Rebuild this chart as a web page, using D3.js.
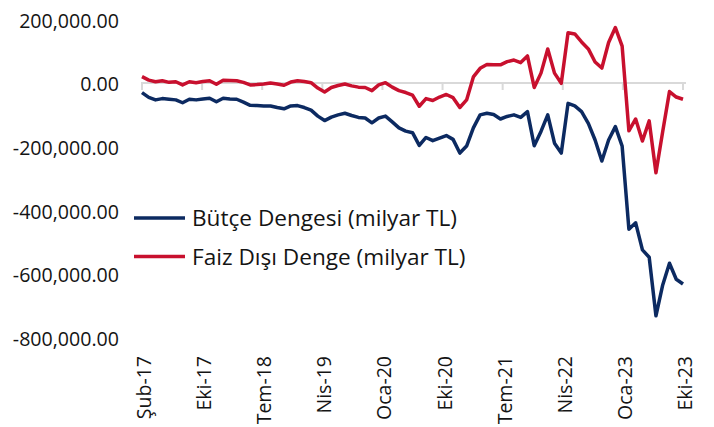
<!DOCTYPE html>
<html>
<head>
<meta charset="utf-8">
<script src="https://cdn.jsdelivr.net/npm/d3@7"></script>
<style>
  body { margin: 0; background: #fff; }
  text { font-family: "Open Sans", "DejaVu Sans", sans-serif; fill: #141414; }
</style>
</head>
<body>
<svg id="chart" width="714" height="427"></svg>
<script>
// monthly categories, Şub-17 .. Eki-23
const monthNames = ["Oca", "Şub", "Mar", "Nis", "May", "Haz", "Tem", "Ağu", "Eyl", "Eki", "Kas", "Ara"];
const categories = d3.range(81).map(function (i) {
  return monthNames[(i + 1) % 12] + "-" + (17 + Math.floor((i + 1) / 12));
});

const tickLabels = ["Şub-17", "Eki-17", "Tem-18", "Nis-19", "Oca-20", "Eki-20", "Tem-21", "Nis-22", "Oca-23", "Eki-23"];
const yTicks = [200000, 0, -200000, -400000, -600000, -800000];

// Bütçe Dengesi (milyar TL)
const butceDengesi = [
  -30000, -45000, -53000, -49000, -51000, -53000, -62000, -51000, -53000, -50000,
  -48000, -59000, -48000, -50000, -51000, -60000, -70000, -71000, -72000, -72000,
  -77000, -81000, -72000, -71000, -77000, -85000, -104000, -118000, -107000, -100000,
  -95000, -102000, -108000, -110000, -125000, -110000, -104000, -122000, -141000, -151000,
  -156000, -196000, -171000, -181000, -173000, -165000, -177000, -220000, -198000, -141000,
  -100000, -95000, -99000, -113000, -105000, -100000, -108000, -90000, -197000, -152000,
  -100000, -189000, -220000, -64000, -72000, -90000, -127000, -179000, -245000, -179000,
  -137000, -198000, -459000, -439000, -524000, -547000, -731000, -634000, -566000, -616000,
  -631000
];

// Faiz Dışı Denge (milyar TL)
const faizDisiDenge = [
  20000, 9000, 4000, 7000, 2000, 4000, -6000, 4000, 1000, 5000,
  7000, -4000, 9000, 8000, 7000, 2000, -6000, -5000, -3000, 0,
  -3000, -7000, 3000, 7000, 5000, 1000, -16000, -28000, -14000, -8000,
  -3000, -9000, -13000, -14000, -24000, -6000, 1000, -13000, -24000, -30000,
  -38000, -73000, -49000, -55000, -44000, -36000, -46000, -77000, -53000, 19000,
  46000, 58000, 57000, 57000, 67000, 72000, 64000, 85000, -14000, 31000,
  107000, 31000, -1000, 158000, 154000, 129000, 107000, 66000, 47000, 127000,
  174000, 116000, -150000, -113000, -182000, -119000, -282000, -152000, -27000, -44000,
  -51000
];

const series = [
  { name: "Bütçe Dengesi (milyar TL)", values: butceDengesi, color: "#0c2a61" },
  { name: "Faiz Dışı Denge (milyar TL)", values: faizDisiDenge, color: "#c8102e" }
];

const svg = d3.select("#chart");

const xScale = d3.scaleLinear().domain([0, categories.length - 1]).range([142, 683]);
const yScale = d3.scaleLinear().domain([-800000, 200000]).range([337.8, 19.3]);

const fmt = d3.formatLocale({
  decimal: ".", thousands: ",", grouping: [3], currency: ["", ""], minus: "-"
}).format(",.2f");

// y axis labels (no axis line, no grid)
svg.append("g")
  .selectAll("text")
  .data(yTicks)
  .enter()
  .append("text")
  .attr("x", 119)
  .attr("y", function (d) { return yScale(d); })
  .attr("dy", "0.42em")
  .attr("text-anchor", "end")
  .attr("font-size", "19.6px")
  .text(function (d) { return fmt(d); });

// zero line with tick marks
const tickPos = tickLabels.map(function (d, k) {
  return k * (categories.length - 1) / (tickLabels.length - 1);
});

const zero = svg.append("g").attr("transform", "translate(0," + yScale(0) + ")");
zero.append("line")
  .attr("x1", xScale(0) - 1)
  .attr("x2", xScale(categories.length - 1) + 3)
  .attr("stroke", "#d9d9d9")
  .attr("stroke-width", 2);
zero.selectAll(".tick")
  .data(tickPos)
  .enter()
  .append("line")
  .attr("class", "tick")
  .attr("x1", function (d) { return xScale(d); })
  .attr("x2", function (d) { return xScale(d); })
  .attr("y1", 0)
  .attr("y2", 7)
  .attr("stroke", "#d9d9d9")
  .attr("stroke-width", 2);

// x labels, rotated
svg.append("g")
  .selectAll("text")
  .data(tickPos)
  .enter()
  .append("text")
  .attr("transform", function (d) {
    return "translate(" + (xScale(d) + 2) + ",356) rotate(-90)";
  })
  .attr("dy", "0.36em")
  .attr("text-anchor", "end")
  .attr("font-size", "19.5px")
  .text(function (d, k) { return tickLabels[k]; });

// lines
const line = d3.line()
  .x(function (d, i) { return xScale(i); })
  .y(function (d) { return yScale(d); })
  .curve(d3.curveLinear);

svg.append("g")
  .selectAll("path")
  .data(series)
  .enter()
  .append("path")
  .attr("d", function (d) { return line(d.values); })
  .attr("fill", "none")
  .attr("stroke", function (d) { return d.color; })
  .attr("stroke-width", 3.5)
  .attr("stroke-linejoin", "round");

// legend
const legend = svg.append("g")
  .selectAll("g")
  .data(series)
  .enter()
  .append("g")
  .attr("transform", function (d, i) { return "translate(134," + (218 + i * 38.5) + ")"; });

legend.append("line")
  .attr("x1", 0)
  .attr("x2", 51)
  .attr("stroke", function (d) { return d.color; })
  .attr("stroke-width", 3.5);

legend.append("text")
  .attr("x", 58)
  .attr("dy", "0.36em")
  .attr("font-size", "22.6px")
  .text(function (d) { return d.name; });
</script>
</body>
</html>
